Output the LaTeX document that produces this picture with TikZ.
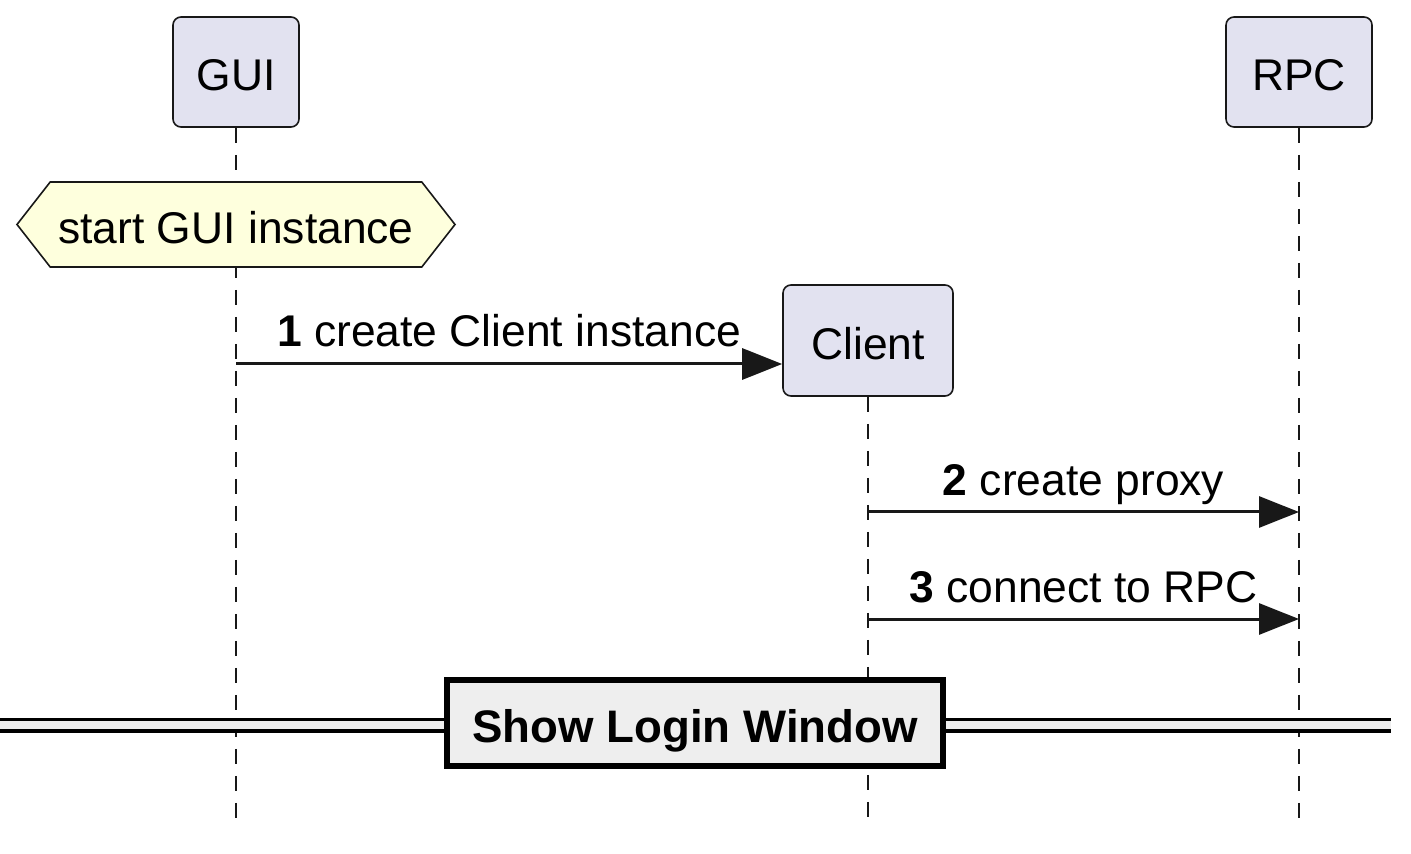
\documentclass[tikz,border=0pt]{standalone}
\usepackage{fontspec}
\setmainfont{Liberation Sans}
\usetikzlibrary{arrows.meta,shapes.symbols,positioning,backgrounds}
\definecolor{partfill}{HTML}{E2E2F0}
\definecolor{notefill}{HTML}{FEFFDD}
\definecolor{sepfill}{HTML}{EEEEEE}
\definecolor{ink}{HTML}{181818}

\begin{document}
\begin{tikzpicture}[x=0.5pt, y=-0.5pt,
    font=\fontsize{22.2}{26}\selectfont,
    part/.style={draw=ink, line width=0.8pt, fill=partfill, rounded corners=4pt, minimum height=55pt, inner sep=0pt, text height=19pt, text depth=0pt},
    note/.style={signal, signal to=west and east, signal pointer angle=104, draw=ink, line width=0.8pt, fill=notefill, minimum width=219pt, minimum height=42.5pt, inner sep=0pt, text height=19pt, text depth=0pt},
    life/.style={draw=ink, line width=0.7pt, dash pattern=on 7.5pt off 6pt},
    msg/.style={draw=ink, line width=1.5pt, -{Triangle[length=20pt, width=15.5pt]}},
    lbl/.style={midway, anchor=base, yshift=8.5pt, inner sep=0pt},
    sep/.style={draw=black, line width=2.8pt, fill=sepfill, font=\fontsize{22.8}{26}\selectfont\bfseries, minimum width=248pt, minimum height=43pt, inner sep=0pt, text height=19pt, text depth=0pt}
]
\useasboundingbox (0,0) rectangle (1411,854);

\node[part, minimum width=63pt] (gui) at (236,72) {GUI};
\node[part, minimum width=73pt] (rpc) at (1299,72) {RPC};
\node[part, minimum width=85pt, minimum height=55.5pt] (client) at (868,340.5) {Client};
\node[note] (start) at (236,224.5) {start GUI instance};

\coordinate (guiend) at (236,828);
\coordinate (clientend) at (868,818);
\coordinate (rpcend) at (1299,828);
\begin{scope}[on background layer]
\draw[life] (gui.south) -- (guiend);
\draw[life] (client.south) -- (clientend);
\draw[life] (rpc.south) -- (rpcend);
\end{scope}

\coordinate (m1) at (236,364);
\coordinate (m2) at (868,512);
\coordinate (m3) at (868,619);
\draw[msg] (m1) -- (client.west |- m1) node[lbl] {\textbf{1} create Client instance};
\draw[msg] (m2) -- (rpcend |- m2) node[lbl] {\textbf{2} create proxy};
\draw[msg] (m3) -- (rpcend |- m3) node[lbl] {\textbf{3} connect to RPC};

% divider
\node[sep] (login) at (695,723) {Show Login Window};
\coordinate (dl) at (0,725);
\coordinate (dr) at (1391,725);
\draw[line width=1.75pt, double=sepfill, double distance=4pt] (dl) -- (dl -| login.west);
\draw[line width=1.75pt, double=sepfill, double distance=4pt] (dr -| login.east) -- (dr);
\end{tikzpicture}
\end{document}
